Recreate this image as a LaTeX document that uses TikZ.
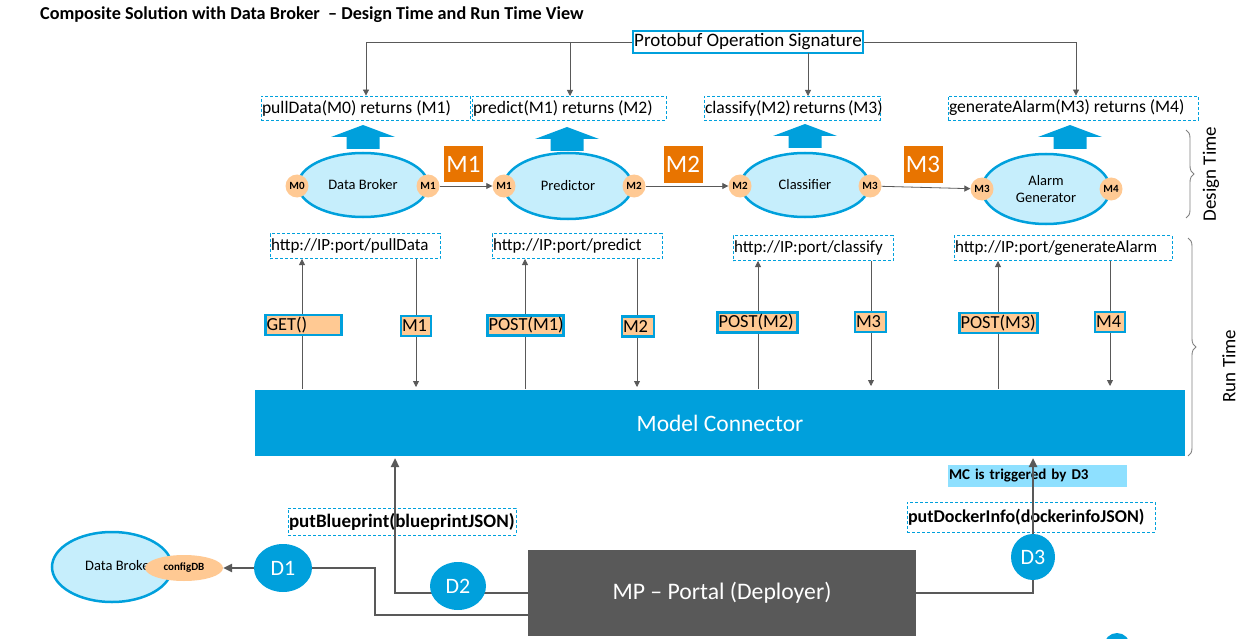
\documentclass[tikz,border=0pt]{standalone}
\usepackage{fontspec}
\setmainfont{Carlito}
\usetikzlibrary{arrows.meta,shapes.geometric,decorations.pathreplacing}
\definecolor{cblue}{HTML}{00A0DC}
\definecolor{clight}{HTML}{C6EEFC}
\definecolor{corange}{HTML}{FFC993}
\definecolor{cdark}{HTML}{E87400}
\definecolor{cgray}{HTML}{595959}
\definecolor{ccyan}{HTML}{8EE0FF}
\newcommand{\blockup}[2]{\fill[cblue] (#1-32,#2+12) -- (#1,#2) -- (#1+32,#2+12) -- (#1+16.5,#2+12) -- (#1+16.5,#2+24) -- (#1-16.5,#2+24) -- (#1-16.5,#2+12) -- cycle;}
\tikzset{
  sig/.style={draw=cblue, dash pattern=on 3pt off 2pt, line width=0.8pt, inner sep=1pt, font=\fontsize{17.6}{20}\selectfont, minimum height=24,
    execute at begin node={\hbox to #1pt\bgroup}, execute at end node={\hfil\egroup}},
  comp/.style={ellipse, draw=cblue, line width=2.5pt, fill=clight, inner sep=0, font=\fontsize{14.5}{16}\selectfont, align=center},
  port/.style={circle, fill=corange, minimum size=23, inner sep=0, font=\bfseries\fontsize{11}{12}\selectfont},
  mbox/.style={fill=cdark, text=white, minimum width=39, minimum height=36, inner sep=0, font=\fontsize{25}{26}\selectfont},
  rl/.style={draw=cblue, line width=2.5pt, fill=corange, inner sep=1pt, text width=#1, align=left, minimum height=20, font=\fontsize{18.4}{19}\selectfont},
  conn/.style={draw=cgray, line width=0.8pt},
  tip/.style={-{Triangle[length=6pt,width=6pt]}},
  big/.style={draw=cgray, line width=2.6pt},
  bigtip/.style={-{Triangle[length=9pt,width=8pt]}},
  dcirc/.style={ellipse, fill=cblue, text=white, inner sep=0, font=\fontsize{22}{24}\selectfont},
  brc/.style={draw=gray, line width=0.9pt, decorate, decoration={brace, amplitude=8pt}},
}
\begin{document}
\begin{tikzpicture}[x=1pt,y=-1pt]
\useasboundingbox (0,0) rectangle (1238,639);
% title
\node[anchor=west, font=\bfseries\fontsize{18.2}{20}\selectfont, inner sep=0] (title) at (40,15) {Composite Solution with Data Broker\ \ -- Design Time and Run Time View};
% protobuf signature
\node[draw=cblue, line width=1.8pt, inner sep=1.5pt, minimum width=228, minimum height=22, font=\fontsize{19}{20}\selectfont] (pb) at (748,42) {Protobuf Operation Signature};
\node[sig=207] (s1) at (365.5,108) {pullData(M0) returns (M1)};
\node[sig=192] (s2) at (569,108) {predict(M1) returns (M2)};
\node[sig=174] (s3) at (792,108) {classify(M2) returns (M3)};
\node[sig=248] (s4) at (1073,108) {generateAlarm(M3) returns (M4)};
\coordinate (t1) at (366,42);
\coordinate (t4) at (1076,42);
\draw[conn,tip] (pb.west) -- (t1) -- (t1 |- s1.north);
\draw[conn,tip] (pb.east) -- (t4) -- (t4 |- s4.north);
\draw[conn,tip] (570,42) -- (570,96);
\draw[conn,tip] (808,53) -- (808,96);
% block arrows
\blockup{363}{125}
\blockup{567}{127}
\blockup{805}{124}
\blockup{1070}{125}
% components
\node[comp, minimum width=130, minimum height=64] (db) at (363,185) {Data Broker};
\node[comp, minimum width=128, minimum height=66] (pr) at (568,186) {Predictor};
\node[comp, minimum width=128, minimum height=64] (cl) at (805,185) {Classifier};
\node[comp, minimum width=128, minimum height=70] (ag) at (1046,189) {Alarm\\[1pt]Generator};
\node[port] (p0) at (297,186) {M0};
\node[port] (p1) at (428,186) {M1};
\node[port] (p2) at (504,186) {M1};
\node[port] (p3) at (634,186) {M2};
\node[port] (p4) at (740,186) {M2};
\node[port] (p5) at (870,186) {M3};
\node[port] (p6) at (982,189) {M3};
\node[port] (p7) at (1111,189) {M4};
\draw[conn,tip] (p1) -- (p2);
\draw[conn,tip] (p3) -- (p4);
\draw[conn,tip] (p5) -- (p6);
\node[mbox] (m1) at (463.5,164) {M1};
\node[mbox] (m2) at (683,164.5) {M2};
\node[mbox] (m3) at (923,164.5) {M3};
% urls
\node[sig=168, minimum height=25, font=\fontsize{17}{19}\selectfont] (u1) at (355,246) {http://IP:port/pullData};
\node[sig=168, minimum height=25, font=\fontsize{17}{19}\selectfont] (u2) at (577,246) {http://IP:port/predict};
\node[sig=158, minimum height=25, font=\fontsize{17}{19}\selectfont] (u3) at (813,248) {http://IP:port/classify};
\node[sig=216, minimum height=25, font=\fontsize{17}{19}\selectfont] (u4) at (1063,248) {http://IP:port/generateAlarm};
% model connector
\node[fill=cblue, text=white, minimum width=930, minimum height=66, inner sep=0, font=\fontsize{23.5}{26}\selectfont] (mc) at (720,423) {Model Connector};
% run-time lines
\draw[conn,tip] (302,389) -- (302 ,259);
\draw[conn,tip] (416,259) -- (416,387);
\draw[conn,tip] (525,389) -- (525,259);
\draw[conn,tip] (637,259) -- (637,387);
\draw[conn,tip] (758,389) -- (758,261);
\draw[conn,tip] (871,261) -- (871,386);
\draw[conn,tip] (998,389) -- (998,261);
\draw[conn,tip] (1110,261) -- (1110,386);
\node[rl=74] (r1) at (303.5,325) {GET()};
\node[rl=28] (r2) at (416,326) {M1};
\node[rl=74] (r3) at (525.5,325.5) {POST(M1)};
\node[rl=30] (r4) at (638,326.5) {M2};
\node[rl=78] (r5) at (757.5,322.5) {POST(M2)};
\node[rl=29] (r6) at (870.5,322) {M3};
\node[rl=76] (r7) at (998.5,323) {POST(M3)};
\node[rl=28] (r8) at (1110,322) {M4};
% braces
\draw[brc] (1186,130) -- (1186,218);
\node[rotate=90, font=\fontsize{19}{20}\selectfont] (dt) at (1211,174) {Design Time};
\draw[brc] (1188,238) -- (1188,456);
\node[rotate=90, font=\fontsize{19}{20}\selectfont] (rt) at (1229,366) {Run Time};
% bottom
\node[fill=cgray, text=white, minimum width=388, minimum height=86, inner sep=0, font=\fontsize{23.7}{26}\selectfont] (mp) at (722,593) {MP -- Portal (Deployer)};
\node[fill=ccyan, minimum width=179, minimum height=22, text width=177, align=left, inner sep=1pt, font=\bfseries\fontsize{15}{16}\selectfont] (trig) at (1037.5,476) {MC is triggered by D3};
\node[sig=226, minimum height=27, font=\bfseries\fontsize{19}{20}\selectfont] (bp) at (402,521.5) {putBlueprint(blueprintJSON)};
\node[sig=246, minimum height=30, font=\bfseries\fontsize{18}{20}\selectfont] (di) at (1031,517) {putDockerInfo(dockerinfoJSON)};
\coordinate (k1) at (375,568);
\coordinate (k2) at (395,458);
\coordinate (k3) at (1033,458);
\node[dcirc, minimum width=44, minimum height=46] (d3) at (1033,557) {D3};
\draw[big] ([yshift=-22pt]mp.west) -| (k1) -- (254,568);
\draw[big,bigtip] (mp.west) -| (k2);
\draw[big] (mp.east) -| (d3.south);
\draw[big,bigtip] (d3.north) -- (k3);
\node[dcirc, minimum width=58, minimum height=48] (d1) at (283,568) {D1};
\node[dcirc, minimum width=56, minimum height=48] (d2) at (458,586) {D2};
\node[ellipse, draw=cblue, line width=2.5pt, fill=clight, minimum width=120, minimum height=70, inner sep=0] (db2) at (112,567) {};
\node[anchor=west, inner sep=0, font=\fontsize{14.5}{16}\selectfont] (db2t) at (85,566) {Data Broker};
\node[ellipse, fill=corange, minimum width=78, minimum height=26, inner sep=0, font=\bfseries\fontsize{11}{12}\selectfont] (cfg) at (184,568) {configDB};
\draw[big,bigtip] (d1.west) -- (cfg.east);
\node[circle, fill=cblue, minimum size=26, inner sep=0] (d4) at (1117,646) {};
\end{tikzpicture}
\end{document}
